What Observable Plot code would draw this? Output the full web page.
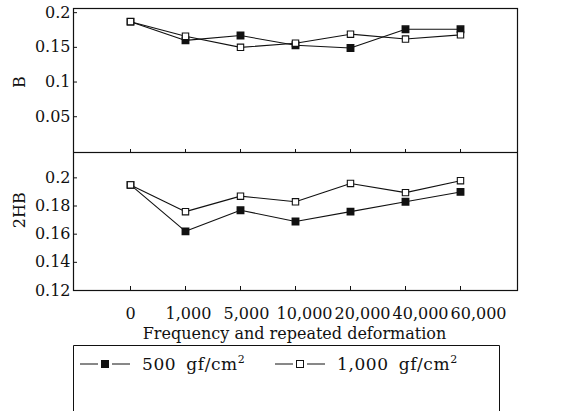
<!DOCTYPE html>
<html><head><meta charset="utf-8">
<script src="https://cdn.jsdelivr.net/npm/d3@7"></script>
<script src="https://cdn.jsdelivr.net/npm/@observablehq/plot@0.6"></script>
<style>
html,body{margin:0;padding:0;background:#fff;}
body{width:565px;height:411px;overflow:hidden;position:relative;font-family:"DejaVu Serif",serif;color:#111;}
#top,#bot{position:absolute;left:0;}
#top{top:0;}
#bot{top:152px;}
#title{position:absolute;top:324px;left:0;width:565px;text-align:center;font-size:16px;padding-left:24px;box-sizing:border-box;}
#legend{position:absolute;top:345px;left:73px;}
</style></head>
<body>
<div id="top"></div><div id="bot"></div>
<div id="title">Frequency and repeated deformation</div>
<div id="legend"></div>
<script>
const cats = ["0","1,000","5,000","10,000","20,000","40,000","60,000"];
const seriesNames = ["500 gf/cm", "1,000 gf/cm"];
const b500  = [0.187,0.160,0.167,0.153,0.149,0.176,0.176];
const b1000 = [0.187,0.166,0.150,0.156,0.169,0.162,0.168];
const h500  = [0.195,0.162,0.177,0.169,0.176,0.183,0.190];
const h1000 = [0.195,0.176,0.187,0.183,0.196,0.1895,0.198];
const bTicks = [0.05,0.1,0.15,0.2];
const hTicks = [0.12,0.14,0.16,0.18,0.2];

const W = 565, ML = 73, MR = 48;
const FW = W - ML - MR;
const ink = "#111";

function rows(vals, s){ return cats.map((c,i)=>({cat:c, v:vals[i], s})); }

function panel({h500v, h1000v, domain, ticks, label, labelAt, height, mt, mb, showX}){
  const d500 = rows(h500v, seriesNames[0]);
  const d1000 = rows(h1000v, seriesNames[1]);
  const FH = height - mt - mb;
  const xLabels = showX ? cats.map((c, i) => Plot.text([c], {
      x: d => d, frameAnchor: "bottom", dy: 23, dx: i * 3, lineAnchor: "middle",
      fill: ink, fontSize: 16})) : [];
  return Plot.plot({
    width: W, height, marginLeft: ML, marginRight: MR, marginTop: mt, marginBottom: mb,
    style: {fontFamily: "DejaVu Serif", fontSize: "16px", color: ink, background: "#fff", overflow: "visible"},
    x: {type:"point", domain: cats, padding: 1, axis: null},
    y: {domain, ticks, tickSize: 0, tickPadding: 3, tickFormat: d => String(d), label: null},
    marks: [
      Plot.frame({stroke: ink, strokeWidth: 1.2}),
      Plot.ruleY(ticks, {y: d => d, insetRight: FW - 4, stroke: ink}),
      Plot.ruleX(cats, {x: d => d, insetTop: FH - 4, stroke: ink}),
      Plot.text([label], {frameAnchor: "left", y: () => labelAt, dx: -54, rotate: -90,
        fill: ink, fontSize: 16, textAnchor: "middle"}),
      ...xLabels,
      Plot.line(d500, {x: "cat", y: "v", stroke: ink, strokeWidth: 1.1}),
      Plot.line(d1000, {x: "cat", y: "v", stroke: ink, strokeWidth: 1.1}),
      Plot.dot(d500, {x: "cat", y: "v", symbol: "square", r: 3.6, fill: ink, stroke: ink}),
      Plot.dot(d1000, {x: "cat", y: "v", symbol: "square", r: 3.6, fill: "#fff", stroke: ink, strokeWidth: 1.1})
    ]
  });
}

document.getElementById("top").append(panel({
  h500v: b500, h1000v: b1000, domain: [-0.003, 0.206], ticks: bTicks, label: "B", labelAt: 0.1,
  height: 153, mt: 8, mb: 0, showX: false
}));
document.getElementById("bot").append(panel({
  h500v: h500, h1000v: h1000, domain: [0.12, 0.218], ticks: hTicks, label: "2HB", labelAt: 0.177,
  height: 168, mt: 0, mb: 30, showX: true
}));

// legend
const LW = 427, LH = 80;
const svg = d3.create("svg").attr("width", LW).attr("height", LH)
  .style("font-family", "DejaVu Serif").style("font-size", "17px");
svg.append("path").attr("d", `M0.5,${LH}V0.5H${LW-0.5}V${LH}`).attr("fill","none").attr("stroke", ink);
const items = [{x: 7, fill: ink, name: seriesNames[0]}, {x: 202, fill: "#fff", name: seriesNames[1]}];
for (const it of items) {
  const g = svg.append("g").attr("transform", `translate(${it.x},19)`);
  g.append("line").attr("x1",0).attr("x2",18).attr("y1",0).attr("y2",0).attr("stroke",ink);
  g.append("line").attr("x1",32).attr("x2",50).attr("y1",0).attr("y2",0).attr("stroke",ink);
  g.append("rect").attr("x",21.5).attr("y",-3.5).attr("width",7).attr("height",7).attr("fill",it.fill).attr("stroke",ink);
  const t = g.append("text").attr("x",62).attr("y",6).attr("fill",ink).style("word-spacing","4px").style("letter-spacing","0.6px").text(it.name);
  t.append("tspan").attr("dy", -7).style("font-size","11px").text("2");
}
document.getElementById("legend").append(svg.node());
</script>
</body></html>
